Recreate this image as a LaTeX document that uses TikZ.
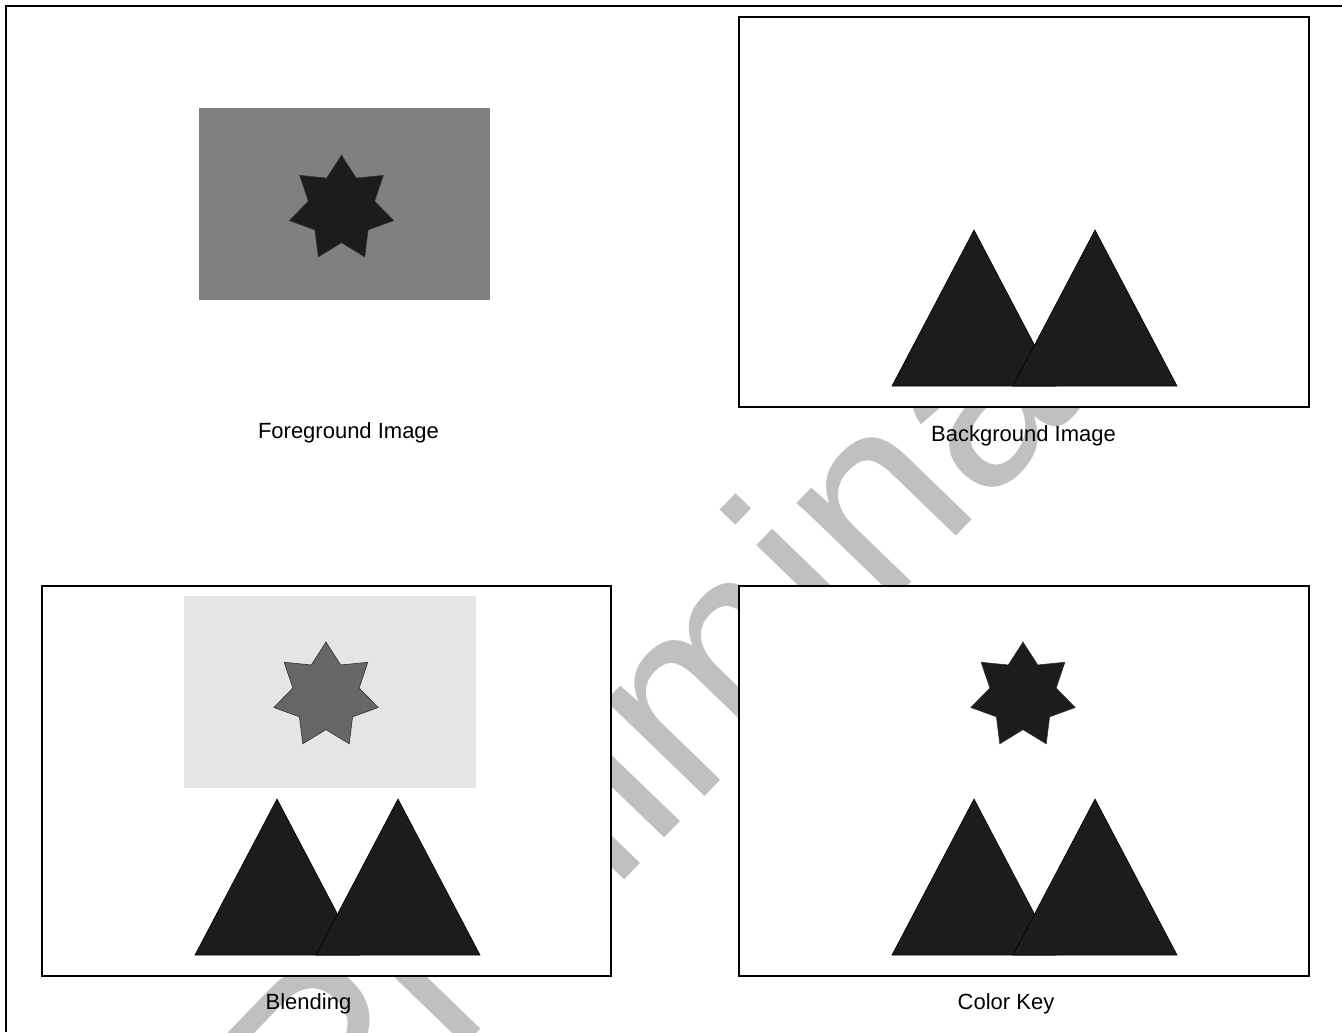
\documentclass[tikz,border=0pt]{standalone}
\usepackage{fontspec}
\setmainfont{Liberation Sans}
\usetikzlibrary{calc}
\definecolor{ShapeDark}{HTML}{1C1C1C}
\definecolor{MarkGray}{HTML}{C0C0C0}

\tikzset{
  frame/.style={draw=black, line width=1pt, fill=white},
  mountain/.style={fill=ShapeDark, draw=black, line width=0.3pt},
  starline/.style={draw=black!80, line width=0.3pt},
  caption/.style={anchor=base, font=\fontsize{11}{13}\selectfont},
  watermark/.style={text=MarkGray, font=\fontsize{130}{130}\selectfont, inner sep=0pt},
}

% seven pointed star, top point up (y runs downwards)
\newcommand{\heptastar}[2]{%
  \draw[starline, fill=#2] ($(#1)+(-90:53.5)$)
    \foreach \k in {0,...,6} {
      -- ($(#1)+({-90+\k*51.4286+25.7143}:34)$)
      -- ($(#1)+({-90+(\k+1)*51.4286}:53.5)$)
    } -- cycle;}

% two overlapping triangles, given the top left corner of their box
\newcommand{\mountains}[1]{%
  \draw[mountain] ($(#1)+(235,213)$) -- ($(#1)+(317,369)$) -- ($(#1)+(153,369)$) -- cycle;
  \draw[mountain] ($(#1)+(356,213)$) -- ($(#1)+(438,369)$) -- ($(#1)+(274,369)$) -- cycle;}

\begin{document}
\begin{tikzpicture}[x=0.5pt,y=-0.5pt]
  \useasboundingbox (0,0) rectangle (1342,1032);

  \node[watermark, rotate=46] (mark) at (735,669) {Preliminary};

  % outer frame
  \draw[line width=1.2pt] (6,1032) -- (6,6) -- (1342,6);

  % foreground image
  \coordinate (fg) at (199,108);
  \fill[black!50] (fg) rectangle (490,300);
  \heptastar{341.5,208.7}{ShapeDark}
  \node[caption] (fglabel) at (348.5,438.5) {Foreground Image};

  % background image
  \coordinate (bg) at (739,17);
  \draw[frame] (bg) rectangle (1309,407);
  \mountains{bg}
  \node[caption] (bglabel) at (1023.5,441) {Background Image};

  % blending
  \coordinate (bl) at (42,586);
  \draw[frame] (bl) rectangle (611,976);
  \fill[black!10] (184,596) rectangle (476,788);
  \heptastar{326,695.6}{black!60}
  \mountains{bl}
  \node[caption] (bllabel) at (308.5,1009) {Blending};

  % color key
  \coordinate (ck) at (739,586);
  \draw[frame] (ck) rectangle (1309,976);
  \heptastar{1023,695.6}{ShapeDark}
  \mountains{ck}
  \node[caption] (cklabel) at (1006,1009) {Color Key};
\end{tikzpicture}
\end{document}
